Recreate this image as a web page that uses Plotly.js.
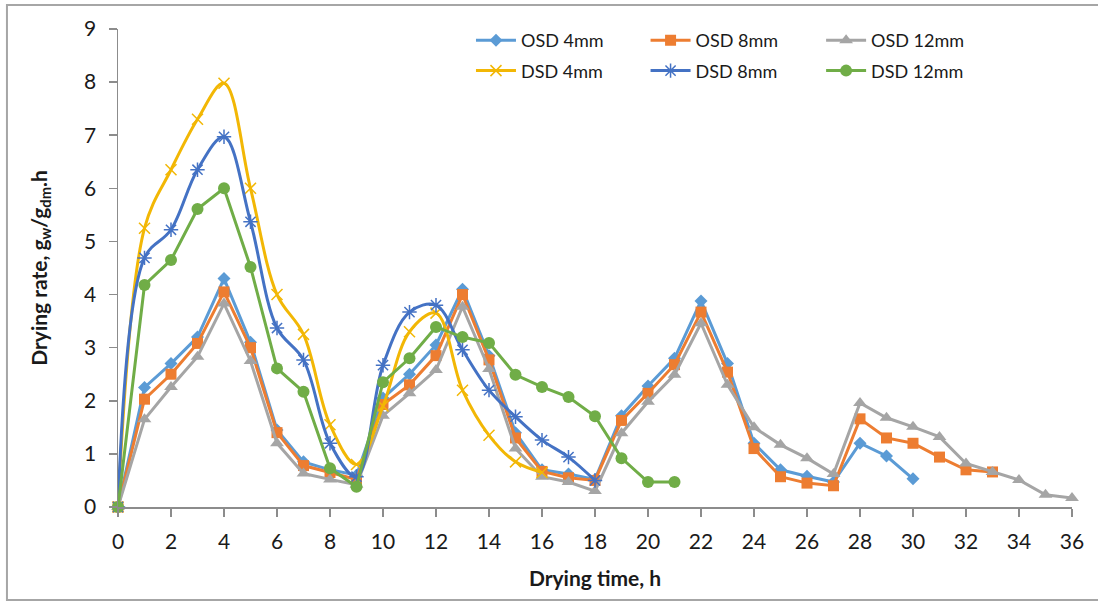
<!DOCTYPE html>
<html>
<head>
<meta charset="utf-8">
<script src="https://cdn.plot.ly/plotly-3.0.1.min.js"></script>
<style>
  html, body { margin: 0; padding: 0; background: #ffffff; }
  #chart { width: 1098px; height: 602px; }
</style>
</head>
<body>
<div id="chart"></div>
<script>
// Drying time, h
const hours = [0,1,2,3,4,5,6,7,8,9,10,11,12,13,14,15,16,17,18,19,20,21,22,23,24,25,26,27,28,29,30,31,32,33,34,35,36];

// Drying rate, gw/gdm.h
const osd4  = [0, 2.25, 2.7, 3.2, 4.3, 3.1, 1.45, 0.85, 0.7, 0.6, 2.05, 2.5, 3.05, 4.1, 2.85, 1.4, 0.7, 0.62, 0.52, 1.72, 2.28, 2.8, 3.88, 2.7, 1.2, 0.7, 0.58, 0.47, 1.2, 0.96, 0.53];
const osd8  = [0, 2.03, 2.5, 3.08, 4.05, 3.0, 1.4, 0.78, 0.65, 0.52, 1.93, 2.3, 2.85, 4.0, 2.77, 1.3, 0.67, 0.55, 0.5, 1.63, 2.14, 2.68, 3.67, 2.54, 1.1, 0.57, 0.45, 0.4, 1.66, 1.3, 1.2, 0.94, 0.7, 0.66];
const osd12 = [0, 1.65, 2.26, 2.83, 3.83, 2.75, 1.2, 0.63, 0.52, 0.42, 1.72, 2.14, 2.58, 3.77, 2.6, 1.1, 0.57, 0.47, 0.3, 1.39, 1.98, 2.49, 3.46, 2.3, 1.5, 1.17, 0.92, 0.62, 1.96, 1.68, 1.51, 1.32, 0.82, 0.66, 0.51, 0.23, 0.17];
const dsd4  = [0, 5.25, 6.35, 7.3, 7.98, 6.0, 4.0, 3.25, 1.55, 0.8, 1.9, 3.3, 3.65, 2.2, 1.35, 0.85, 0.65];
const dsd8  = [0, 4.69, 5.22, 6.35, 6.97, 5.37, 3.37, 2.77, 1.2, 0.57, 2.67, 3.67, 3.8, 2.96, 2.2, 1.7, 1.26, 0.94, 0.5];
const dsd12 = [0, 4.18, 4.65, 5.61, 6.0, 4.52, 2.61, 2.17, 0.73, 0.38, 2.35, 2.8, 3.39, 3.2, 3.09, 2.49, 2.26, 2.07, 1.71, 0.92, 0.47, 0.47];

const seriesNames = ["OSD 4mm", "OSD 8mm", "OSD 12mm", "DSD 4mm", "DSD 8mm", "DSD 12mm"];
const xTicks = [0,2,4,6,8,10,12,14,16,18,20,22,24,26,28,30,32,34,36];
const yTicks = [0,1,2,3,4,5,6,7,8,9];

const FONT = "Lato, 'Open Sans', sans-serif";
const AXC = "#8c8c8c";

function mk(name, vals, color, symbol, size, shape, legend, extraMarker) {
  const marker = Object.assign({ symbol: symbol, size: size, color: color, line: { width: 0, color: color } }, extraMarker || {});
  return {
    type: "scatter", mode: "lines+markers", name: name,
    x: hours.slice(0, vals.length), y: vals,
    line: { color: color, width: 3, shape: shape, smoothing: 1 },
    marker: marker, cliponaxis: false, legend: legend, legendgroup: name
  };
}

const traces = [
  mk(seriesNames[0], osd4,  "#5B9BD5", "diamond", 10, "linear", "legend"),
  mk(seriesNames[1], osd8,  "#ED7D31", "square", 11, "linear", "legend2"),
  mk(seriesNames[2], osd12, "#A5A5A5", "triangle-up", 12, "linear", "legend3"),
  mk(seriesNames[3], dsd4,  "#F2B705", "x-thin", 11, "spline", "legend", { line: { width: 1.5, color: "#F2B705" } }),
  mk(seriesNames[4], dsd8,  "#4472C4", "asterisk", 12, "spline", "legend2", { line: { width: 1.5, color: "#4472C4" } }),
  mk(seriesNames[5], dsd12, "#70AD47", "circle", 12, "linear", "legend3")
];

function legendAt(x) {
  return { x: x, xanchor: "left", y: 1.0146, yanchor: "top", orientation: "v",
    font: { family: FONT, size: 18, color: "#1a1a1a" }, bgcolor: "rgba(0,0,0,0)",
    traceorder: "grouped", tracegroupgap: 4, itemwidth: 40 };
}

const layout = {
  width: 1098, height: 602,
  margin: { l: 118, r: 26, t: 29, b: 95 },
  paper_bgcolor: "#ffffff", plot_bgcolor: "#ffffff",
  font: { family: FONT, size: 21, color: "#1a1a1a" },
  showlegend: true,
  legend: legendAt(0.37),
  legend2: legendAt(0.553),
  legend3: legendAt(0.737),
  xaxis: {
    range: [0, 36], tickvals: xTicks, ticktext: xTicks.map(String),
    showgrid: false, zeroline: false, showline: true, linecolor: AXC, linewidth: 1.5,
    ticks: "outside", ticklen: 8, tickcolor: AXC, tickwidth: 1.5,
    ticklabelstandoff: 7,
    tickfont: { family: FONT, size: 21, color: "#1a1a1a" },
    title: { text: "<b>Drying time, h</b>", font: { family: FONT, size: 21, color: "#1a1a1a" }, standoff: 19 }
  },
  yaxis: {
    range: [0, 9], tickvals: yTicks, ticktext: yTicks.map(String),
    showgrid: false, zeroline: false, showline: true, linecolor: AXC, linewidth: 1.5,
    ticks: "outside", ticklen: 8, tickcolor: AXC, tickwidth: 1.5,
    ticklabelstandoff: 8,
    tickfont: { family: FONT, size: 21, color: "#1a1a1a" },
    title: { text: "<b>Drying rate, g<sub>w</sub>/g<sub>dm</sub>.h</b>", font: { family: FONT, size: 21, color: "#1a1a1a" }, standoff: 31 }
  },
  shapes: [
    { type: "rect", xref: "paper", yref: "paper", x0: -0.1164, x1: 1.04, y0: -0.1946, y1: 1.0502,
      line: { color: "#a6a6a6", width: 2 }, fillcolor: "rgba(0,0,0,0)", layer: "below" }
  ]
};

Plotly.newPlot("chart", traces, layout, { displayModeBar: false, staticPlot: true });
</script>
</body>
</html>
